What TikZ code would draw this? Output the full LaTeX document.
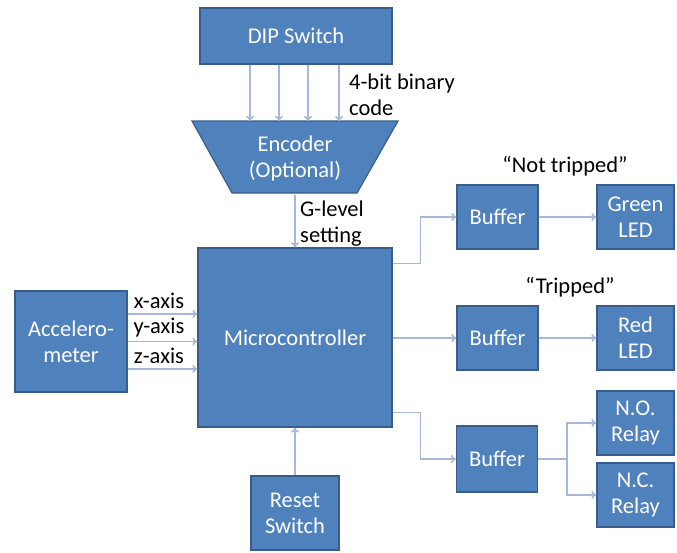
\documentclass[tikz,border=0pt]{standalone}
\usepackage{fontspec}
\setmainfont{Carlito}
\usetikzlibrary{arrows.meta,calc}
\definecolor{boxfill}{RGB}{79,129,189}
\definecolor{boxline}{RGB}{56,93,138}
\definecolor{arrcol}{RGB}{165,184,214}
\tikzset{
  blk/.style={draw=boxline, line width=1.2pt, fill=boxfill, text=white, align=center,
    font=\fontsize{22.5}{25}\selectfont, inner sep=0pt},
  arr/.style={draw=arrcol, line width=1.6pt, -{To[length=5pt,width=8pt]}},
  lbl/.style={text=black, font=\fontsize{22.5}{26}\selectfont, inner sep=0pt}
}
\begin{document}
\begin{tikzpicture}[x=1pt,y=-1pt]
\useasboundingbox (0,0) rectangle (677,552);
\node[blk, minimum width=192pt, minimum height=56pt] (dip) at (296,36) {DIP Switch};
% encoder trapezoid
\path[blk] (192,121) -- (398,121) -- (357,193) -- (232,193) -- cycle;
\node[blk, draw=none, fill=none, minimum width=125pt, minimum height=72pt] (enc) at (295,158) {Encoder\\[1pt](Optional)};
\node[blk, minimum width=194pt, minimum height=179pt] (micro) at (295,337.5) {Microcontroller};
\node[blk, minimum width=112pt, minimum height=101pt] (acc) at (71,341.5) {Accelero-\\[1pt]meter};
\node[blk, minimum width=81pt, minimum height=64pt] (buf1) at (497.5,217) {Buffer};
\node[blk, minimum width=81pt, minimum height=64pt] (buf2) at (497.5,338) {Buffer};
\node[blk, minimum width=81pt, minimum height=66pt] (buf3) at (497,459) {Buffer};
\node[blk, minimum width=77pt, minimum height=64pt] (green) at (635.5,217) {Green\\[1pt]LED};
\node[blk, minimum width=77pt, minimum height=64pt] (red) at (635.5,338) {Red\\[1pt]LED};
\node[blk, minimum width=77pt, minimum height=64pt] (no) at (635.5,423) {N.O.\\[1pt]Relay};
\node[blk, minimum width=77pt, minimum height=64pt] (nc) at (635.5,495) {N.C.\\[1pt]Relay};
\node[blk, minimum width=88pt, minimum height=74pt] (reset) at (295,513) {Reset\\[1pt]Switch};
% labels
\node[lbl, anchor=west, align=left] (bin) at (349,95) {4-bit binary\\code};
\node[lbl, anchor=west, align=left] (glev) at (300,224) {G-level\\setting};
\node[lbl] (xl) at (159,301) {x-axis};
\node[lbl] (yl) at (159,328) {y-axis};
\node[lbl] (zl) at (159,356) {z-axis};
\node[lbl] (nt) at (565,166) {“Not tripped”};
\node[lbl] (tr) at (570,287) {“Tripped”};
% connectors
\foreach \dx in {-46,-17,12,43}
  \draw[arr] ([xshift=\dx pt]dip.south) -- ([xshift=\dx pt]dip.south |- 0,121);
\draw[arr] (enc.south) -- (micro.north);
\foreach \dy in {27.5,0,-27.5}
  \draw[arr] ([yshift=\dy pt]acc.east) -- ([yshift=\dy pt]acc.east -| micro.west);
\draw[arr] ([yshift=74pt]micro.east) -- ++(28,0) |- (buf1.west);
\draw[arr] (micro.east |- buf2.west) -- (buf2.west);
\draw[arr] ([yshift=-75pt]micro.east) -- ++(28,0) |- (buf3.west);
\draw[arr] (buf1.east) -- (green.west);
\draw[arr] (buf2.east) -- (red.west);
\coordinate (split) at ($(buf3.east)+(29,0)$);
\draw[arr, -] (buf3.east) -- (split);
\draw[arr] (split) |- (no.west);
\draw[arr] (split) |- (nc.west);
\draw[arr] (reset.north) -- (micro.south);
\end{tikzpicture}
\end{document}
